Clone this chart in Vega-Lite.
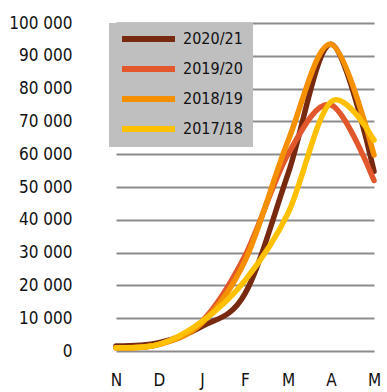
{
  "$schema": "https://vega.github.io/schema/vega-lite/v6.json",
  "width": 291,
  "height": 328,
  "autosize": {"type": "none"},
  "padding": {"left": 96, "top": 23, "right": 0, "bottom": 41},
  "background": "white",
  "config": {
    "view": {"stroke": null},
    "font": "DejaVu Sans Condensed",
    "axis": {"labelFont": "DejaVu Sans Condensed", "labelFontSize": 17, "labelColor": "#111111"},
    "legend": {"labelFont": "DejaVu Sans Condensed"}
  },
  "data": {
    "values": [
      {"season": "2020/21", "month": "Nov", "cases": 1500},
      {"season": "2020/21", "month": "Dec", "cases": 2500},
      {"season": "2020/21", "month": "Jan", "cases": 7500},
      {"season": "2020/21", "month": "Feb", "cases": 17500},
      {"season": "2020/21", "month": "Mar", "cases": 54000},
      {"season": "2020/21", "month": "Apr", "cases": 93500},
      {"season": "2020/21", "month": "May", "cases": 54800},
      {"season": "2019/20", "month": "Nov", "cases": 1000},
      {"season": "2019/20", "month": "Dec", "cases": 2000},
      {"season": "2019/20", "month": "Jan", "cases": 9000},
      {"season": "2019/20", "month": "Feb", "cases": 29000},
      {"season": "2019/20", "month": "Mar", "cases": 60000},
      {"season": "2019/20", "month": "Apr", "cases": 75000},
      {"season": "2019/20", "month": "May", "cases": 52000},
      {"season": "2018/19", "month": "Nov", "cases": 1000},
      {"season": "2018/19", "month": "Dec", "cases": 2000},
      {"season": "2018/19", "month": "Jan", "cases": 8500},
      {"season": "2018/19", "month": "Feb", "cases": 27500},
      {"season": "2018/19", "month": "Mar", "cases": 64000},
      {"season": "2018/19", "month": "Apr", "cases": 93500},
      {"season": "2018/19", "month": "May", "cases": 59800},
      {"season": "2017/18", "month": "Nov", "cases": 1000},
      {"season": "2017/18", "month": "Dec", "cases": 2000},
      {"season": "2017/18", "month": "Jan", "cases": 9000},
      {"season": "2017/18", "month": "Feb", "cases": 21500},
      {"season": "2017/18", "month": "Mar", "cases": 42000},
      {"season": "2017/18", "month": "Apr", "cases": 76000},
      {"season": "2017/18", "month": "May", "cases": 64300}
    ]
  },
  "mark": {"type": "line", "interpolate": "cardinal", "strokeWidth": 5.5, "strokeCap": "round", "strokeJoin": "round"},
  "encoding": {
    "x": {
      "field": "month",
      "type": "ordinal",
      "sort": ["Nov", "Dec", "Jan", "Feb", "Mar", "Apr", "May"],
      "scale": {"type": "point", "range": [20, 278], "padding": 0},
      "axis": {
        "title": null,
        "domain": false,
        "ticks": false,
        "grid": false,
        "labelAngle": 0,
        "labelPadding": 21,
        "labelExpr": "substring(datum.label, 0, 1)"
      }
    },
    "y": {
      "field": "cases",
      "type": "quantitative",
      "scale": {"domain": [0, 100000], "nice": false},
      "axis": {
        "title": null,
        "domain": false,
        "ticks": false,
        "values": [0, 10000, 20000, 30000, 40000, 50000, 60000, 70000, 80000, 90000, 100000],
        "grid": true,
        "gridColor": "#8c8c8c",
        "gridWidth": 2,
        "gridOpacity": 1,
        "labelPadding": 24,
        "labelExpr": "replace(format(datum.value, ','), ',', ' ')"
      }
    },
    "color": {
      "field": "season",
      "type": "nominal",
      "scale": {
        "domain": ["2020/21", "2019/20", "2018/19", "2017/18"],
        "range": ["#772a10", "#e2572b", "#f59100", "#ffc000"]
      },
      "legend": {
        "title": null,
        "orient": "none",
        "legendX": 13,
        "legendY": 0,
        "fillColor": "#bfbfbf",
        "padding": 10,
        "clipHeight": 12,
        "rowPadding": 14,
        "symbolType": "stroke",
        "symbolSize": 2809,
        "symbolStrokeWidth": 6,
        "labelFontSize": 16,
        "labelColor": "#111111",
        "labelOffset": 5
      }
    }
  }
}
